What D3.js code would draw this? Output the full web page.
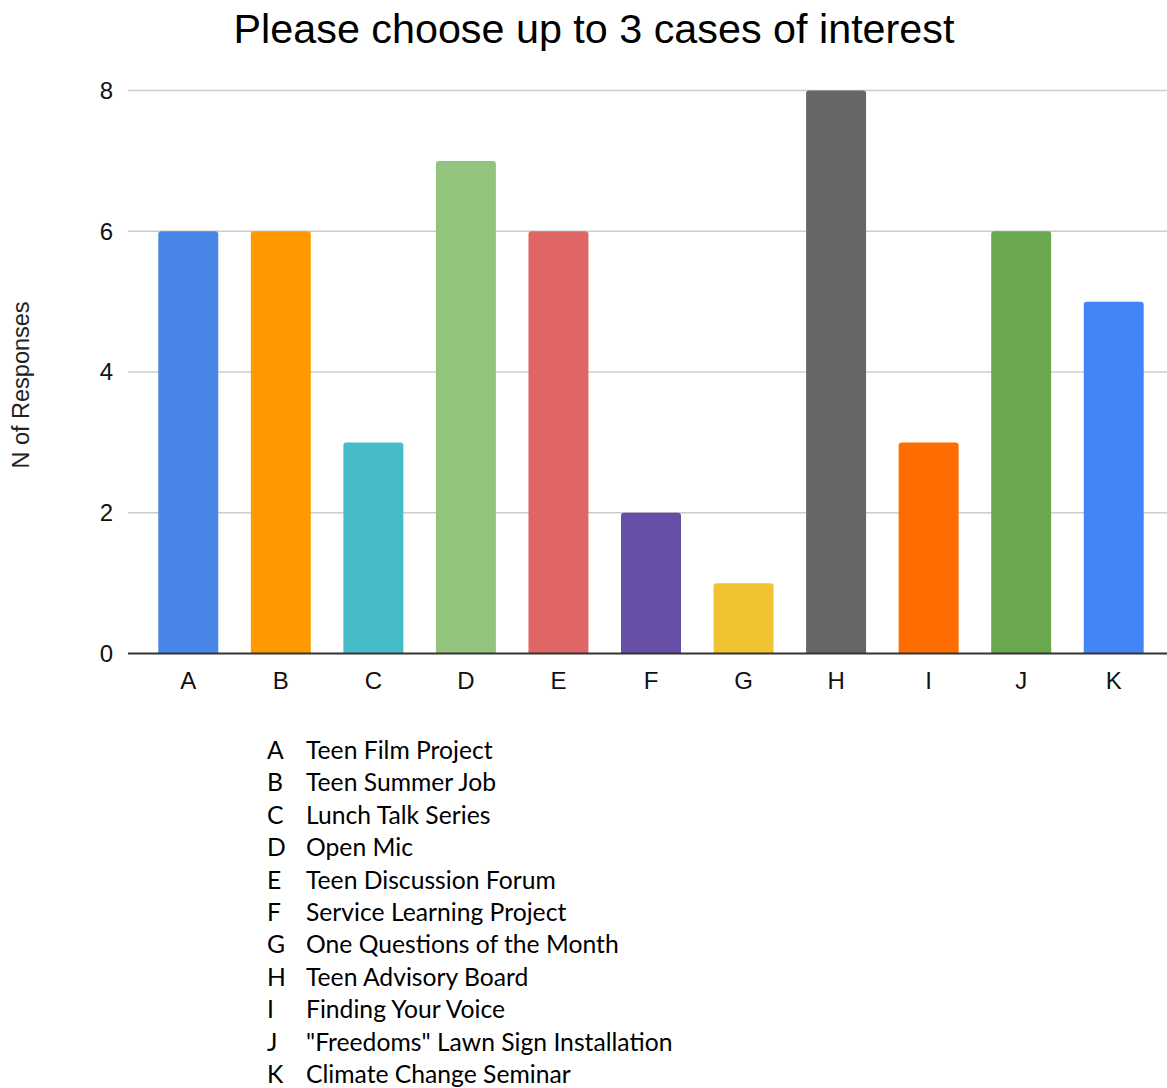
<!DOCTYPE html>
<html>
<head>
<meta charset="utf-8">
<script src="https://cdn.jsdelivr.net/npm/d3@7"></script>
<style>
  body { margin: 0; background: #fff; }
  svg { display: block; }
</style>
</head>
<body>
<svg id="chart" width="1167" height="1088"></svg>
<script>
var categories = ["A", "B", "C", "D", "E", "F", "G", "H", "I", "J", "K"];
var responses = [6, 6, 3, 7, 6, 2, 1, 8, 3, 6, 5];
var colors = ["#4a86e8", "#ff9900", "#46bdc6", "#93c47d", "#e06666", "#674ea7",
              "#f1c232", "#666666", "#ff6d01", "#6aa84f", "#4285f4"];
var names = ["Teen Film Project", "Teen Summer Job", "Lunch Talk Series", "Open Mic",
             "Teen Discussion Forum", "Service Learning Project", "One Questions of the Month",
             "Teen Advisory Board", "Finding Your Voice", "\"Freedoms\" Lawn Sign Installation",
             "Climate Change Seminar"];
var yTicks = [0, 2, 4, 6, 8];

(function () {
  var svg = d3.select("#chart");
  var plotLeft = 128, plotRight = 1167, plotTop = 90.5, plotBottom = 653.5;

  var x = d3.scaleBand().domain(categories).range([142, 1160]).paddingInner(0.352).paddingOuter(0.176);
  var y = d3.scaleLinear().domain([0, 8]).range([plotBottom, plotTop]);

  // gridlines
  svg.append("g").selectAll("line").data(yTicks.filter(function (d) { return d > 0; }))
    .join("line")
    .attr("x1", plotLeft).attr("x2", plotRight)
    .attr("y1", function (d) { return y(d); }).attr("y2", function (d) { return y(d); })
    .attr("stroke", "#cccccc").attr("stroke-width", 1.5);

  // bars, rounded on top only
  function barPath(d, i) {
    var x0 = x(categories[i]), w = x.bandwidth(), y0 = y(d), r = 3;
    return ["M", x0, plotBottom, "L", x0, y0 + r, "Q", x0, y0, x0 + r, y0,
            "L", x0 + w - r, y0, "Q", x0 + w, y0, x0 + w, y0 + r, "L", x0 + w, plotBottom, "Z"].join(" ");
  }
  svg.append("g").selectAll("path").data(responses)
    .join("path")
    .attr("d", barPath)
    .attr("fill", function (d, i) { return colors[i]; });

  // baseline
  svg.append("line")
    .attr("x1", plotLeft).attr("x2", plotRight).attr("y1", y(0)).attr("y2", y(0))
    .attr("stroke", "#333333").attr("stroke-width", 2);

  // y tick labels
  svg.append("g").selectAll("text").data(yTicks)
    .join("text")
    .attr("x", 113).attr("y", function (d) { return y(d); })
    .attr("dy", "0.35em")
    .attr("text-anchor", "end")
    .attr("font-family", "Liberation Sans, Arial, sans-serif")
    .attr("font-size", 24)
    .attr("fill", "#111")
    .text(function (d) { return d; });

  // x labels
  svg.append("g").selectAll("text").data(categories)
    .join("text")
    .attr("x", function (d) { return x(d) + x.bandwidth() / 2; })
    .attr("y", 689)
    .attr("text-anchor", "middle")
    .attr("font-family", "Liberation Sans, Arial, sans-serif")
    .attr("font-size", 24)
    .attr("fill", "#111")
    .text(function (d) { return d; });

  // title
  svg.append("text")
    .attr("x", 594).attr("y", 43)
    .attr("text-anchor", "middle")
    .attr("font-family", "Liberation Sans, Arial, sans-serif")
    .attr("font-size", 41.3)
    .attr("fill", "#000")
    .text("Please choose up to 3 cases of interest");

  // y axis title
  svg.append("text")
    .attr("transform", "translate(29,385) rotate(-90)")
    .attr("text-anchor", "middle")
    .attr("font-family", "Liberation Sans, Arial, sans-serif")
    .attr("font-size", 23.5)
    .attr("fill", "#222")
    .text("N of Responses");

  // legend list below the chart
  var legend = svg.append("g").attr("font-family", "Lato, Open Sans, sans-serif")
    .attr("font-size", 24.7).attr("fill", "#000");
  var rowY = d3.scaleLinear().domain([0, 10]).range([759, 1083]);
  legend.selectAll("text.letter").data(categories)
    .join("text").attr("class", "letter")
    .attr("x", 267).attr("y", function (d, i) { return rowY(i); })
    .text(function (d) { return d; });
  legend.selectAll("text.name").data(names)
    .join("text").attr("class", "name")
    .attr("x", 306).attr("y", function (d, i) { return rowY(i); })
    .text(function (d) { return d; });
})();
</script>
</body>
</html>
